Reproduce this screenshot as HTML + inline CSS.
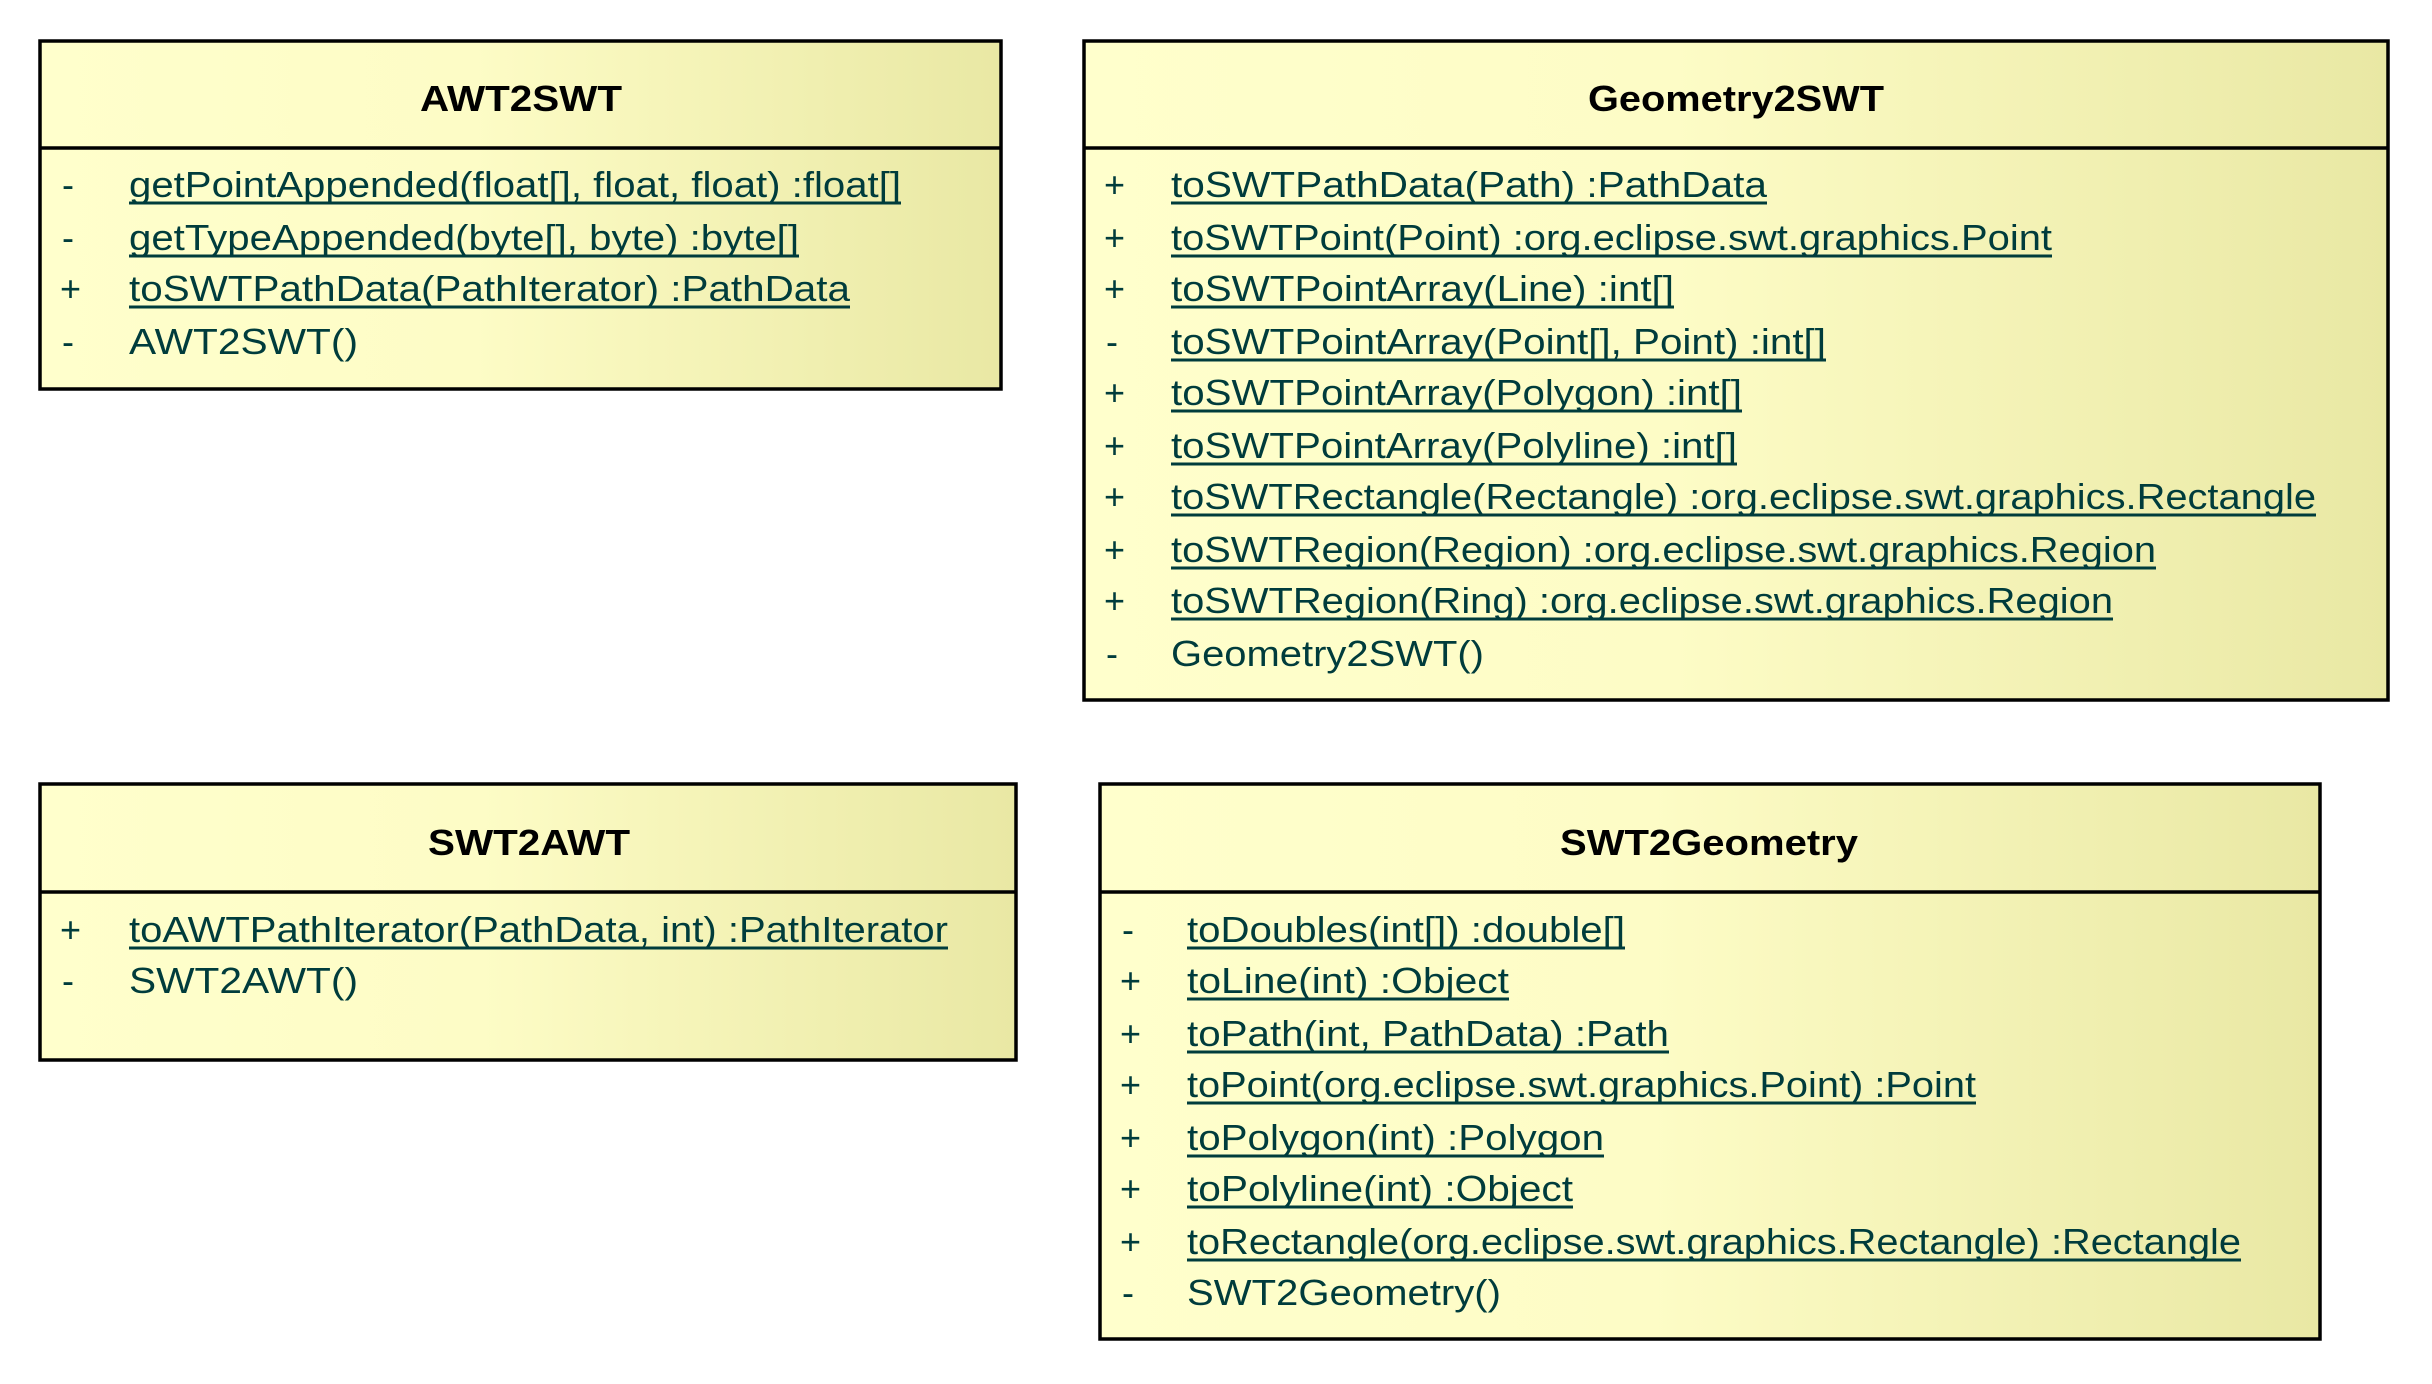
<!DOCTYPE html>
<html><head><meta charset="utf-8"><style>html,body{margin:0;padding:0;background:#fff}svg{display:block}</style></head>
<body>
<svg width="2432" height="1384" viewBox="0 0 2432 1384" xmlns="http://www.w3.org/2000/svg" font-family="Liberation Sans, Arial, sans-serif">
<defs>
<linearGradient id="g" x1="0" y1="0" x2="1" y2="0">
<stop offset="0" stop-color="#ffffcc"/><stop offset="0.45" stop-color="#fdfcc6"/><stop offset="1" stop-color="#e9e8a4"/>
</linearGradient>
</defs>
<g stroke="#000" stroke-width="3.5" fill="url(#g)">
<rect x="40" y="41" width="961" height="348"/>
<line x1="40" y1="148" x2="1001" y2="148"/>
<rect x="1084" y="41" width="1304" height="659"/>
<line x1="1084" y1="148" x2="2388" y2="148"/>
<rect x="40" y="784" width="976" height="276"/>
<line x1="40" y1="892" x2="1016" y2="892"/>
<rect x="1100" y="784" width="1220" height="555"/>
<line x1="1100" y1="892" x2="2320" y2="892"/>
</g>
<g font-weight="bold" font-size="36" fill="#000" lengthAdjust="spacingAndGlyphs">
<text x="420" y="111" textLength="202" lengthAdjust="spacingAndGlyphs">AWT2SWT</text>
<text x="1588" y="111" textLength="296" lengthAdjust="spacingAndGlyphs">Geometry2SWT</text>
<text x="428" y="855" textLength="202" lengthAdjust="spacingAndGlyphs">SWT2AWT</text>
<text x="1560" y="855" textLength="298" lengthAdjust="spacingAndGlyphs">SWT2Geometry</text>
</g>
<g font-size="36" fill="#003c3c">
<!-- AWT2SWT -->
<text x="62" y="197">-</text><text x="129" y="197" textLength="772" lengthAdjust="spacingAndGlyphs">getPointAppended(float[], float, float)  :float[]</text>
<text x="62" y="250">-</text><text x="129" y="250" textLength="670" lengthAdjust="spacingAndGlyphs">getTypeAppended(byte[], byte)  :byte[]</text>
<text x="60" y="301">+</text><text x="129" y="301" textLength="721" lengthAdjust="spacingAndGlyphs">toSWTPathData(PathIterator)  :PathData</text>
<text x="62" y="354">-</text><text x="129" y="354" textLength="229" lengthAdjust="spacingAndGlyphs">AWT2SWT()</text>
<!-- Geometry2SWT -->
<text x="1104" y="197">+</text><text x="1171" y="197" textLength="596" lengthAdjust="spacingAndGlyphs">toSWTPathData(Path)  :PathData</text>
<text x="1104" y="250">+</text><text x="1171" y="250" textLength="881" lengthAdjust="spacingAndGlyphs">toSWTPoint(Point)  :org.eclipse.swt.graphics.Point</text>
<text x="1104" y="301">+</text><text x="1171" y="301" textLength="503" lengthAdjust="spacingAndGlyphs">toSWTPointArray(Line)  :int[]</text>
<text x="1106" y="354">-</text><text x="1171" y="354" textLength="655" lengthAdjust="spacingAndGlyphs">toSWTPointArray(Point[], Point)  :int[]</text>
<text x="1104" y="405">+</text><text x="1171" y="405" textLength="571" lengthAdjust="spacingAndGlyphs">toSWTPointArray(Polygon)  :int[]</text>
<text x="1104" y="458">+</text><text x="1171" y="458" textLength="566" lengthAdjust="spacingAndGlyphs">toSWTPointArray(Polyline)  :int[]</text>
<text x="1104" y="509">+</text><text x="1171" y="509" textLength="1145" lengthAdjust="spacingAndGlyphs">toSWTRectangle(Rectangle)  :org.eclipse.swt.graphics.Rectangle</text>
<text x="1104" y="562">+</text><text x="1171" y="562" textLength="985" lengthAdjust="spacingAndGlyphs">toSWTRegion(Region)  :org.eclipse.swt.graphics.Region</text>
<text x="1104" y="613">+</text><text x="1171" y="613" textLength="942" lengthAdjust="spacingAndGlyphs">toSWTRegion(Ring)  :org.eclipse.swt.graphics.Region</text>
<text x="1106" y="666">-</text><text x="1171" y="666" textLength="313" lengthAdjust="spacingAndGlyphs">Geometry2SWT()</text>
<!-- SWT2AWT -->
<text x="60" y="942">+</text><text x="129" y="942" textLength="819" lengthAdjust="spacingAndGlyphs">toAWTPathIterator(PathData, int)  :PathIterator</text>
<text x="62" y="993">-</text><text x="129" y="993" textLength="229" lengthAdjust="spacingAndGlyphs">SWT2AWT()</text>
<!-- SWT2Geometry -->
<text x="1122" y="942">-</text><text x="1187" y="942" textLength="438" lengthAdjust="spacingAndGlyphs">toDoubles(int[])  :double[]</text>
<text x="1120" y="993">+</text><text x="1187" y="993" textLength="322" lengthAdjust="spacingAndGlyphs">toLine(int)  :Object</text>
<text x="1120" y="1046">+</text><text x="1187" y="1046" textLength="482" lengthAdjust="spacingAndGlyphs">toPath(int, PathData)  :Path</text>
<text x="1120" y="1097">+</text><text x="1187" y="1097" textLength="789" lengthAdjust="spacingAndGlyphs">toPoint(org.eclipse.swt.graphics.Point)  :Point</text>
<text x="1120" y="1150">+</text><text x="1187" y="1150" textLength="417" lengthAdjust="spacingAndGlyphs">toPolygon(int)  :Polygon</text>
<text x="1120" y="1201">+</text><text x="1187" y="1201" textLength="386" lengthAdjust="spacingAndGlyphs">toPolyline(int)  :Object</text>
<text x="1120" y="1254">+</text><text x="1187" y="1254" textLength="1054" lengthAdjust="spacingAndGlyphs">toRectangle(org.eclipse.swt.graphics.Rectangle)  :Rectangle</text>
<text x="1122" y="1305">-</text><text x="1187" y="1305" textLength="314" lengthAdjust="spacingAndGlyphs">SWT2Geometry()</text>
</g>
<g stroke="#003c3c" stroke-width="3">
<line x1="129" y1="203" x2="901" y2="203"/>
<line x1="129" y1="256" x2="799" y2="256"/>
<line x1="129" y1="307" x2="850" y2="307"/>
<line x1="1171" y1="203" x2="1767" y2="203"/>
<line x1="1171" y1="256" x2="2052" y2="256"/>
<line x1="1171" y1="307" x2="1674" y2="307"/>
<line x1="1171" y1="360" x2="1826" y2="360"/>
<line x1="1171" y1="411" x2="1742" y2="411"/>
<line x1="1171" y1="464" x2="1737" y2="464"/>
<line x1="1171" y1="515" x2="2316" y2="515"/>
<line x1="1171" y1="568" x2="2156" y2="568"/>
<line x1="1171" y1="619" x2="2113" y2="619"/>
<line x1="129" y1="948" x2="948" y2="948"/>
<line x1="1187" y1="948" x2="1625" y2="948"/>
<line x1="1187" y1="999" x2="1509" y2="999"/>
<line x1="1187" y1="1052" x2="1669" y2="1052"/>
<line x1="1187" y1="1103" x2="1976" y2="1103"/>
<line x1="1187" y1="1156" x2="1604" y2="1156"/>
<line x1="1187" y1="1207" x2="1573" y2="1207"/>
<line x1="1187" y1="1260" x2="2241" y2="1260"/>
</g>
</svg>
</body></html>
